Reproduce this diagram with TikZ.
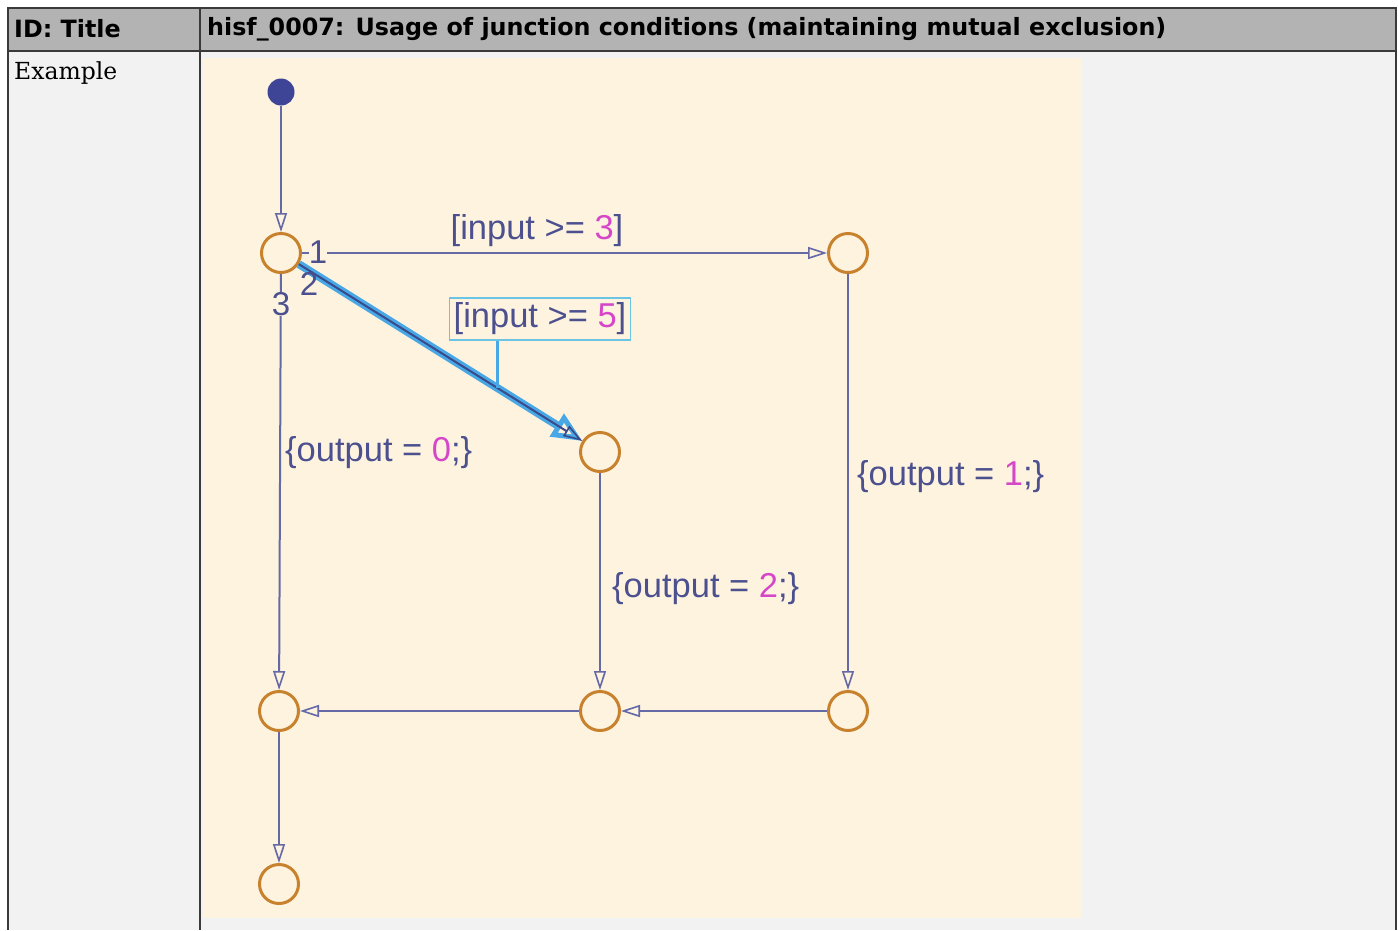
\documentclass[tikz,border=0pt]{standalone}
\usepackage{fontspec}
\setmainfont{DejaVu Serif}
\newfontfamily\headfont{DejaVu Sans}
\newfontfamily\chartfont{Liberation Sans}
\usetikzlibrary{arrows.meta}
\definecolor{hdrgray}{HTML}{B3B3B3}
\definecolor{cellgray}{HTML}{F2F2F2}
\definecolor{rulegray}{HTML}{3A3A3A}
\definecolor{chartbg}{HTML}{FDF3DF}
\definecolor{juncorange}{HTML}{C8822E}
\definecolor{transblue}{HTML}{6569A6}
\definecolor{labelblue}{HTML}{4C508F}
\definecolor{valmagenta}{HTML}{D646C8}
\definecolor{selblue}{HTML}{48A8E6}
\definecolor{seldark}{HTML}{3A4A8A}
\definecolor{boxcyan}{HTML}{6CC4E4}
\definecolor{dotblue}{HTML}{3E4596}
\newcommand{\val}[1]{\textcolor{valmagenta}{#1}}

\begin{document}
\begin{tikzpicture}[x=1pt, y=-1pt,
  junction/.style={circle, draw=juncorange, line width=3pt, minimum size=39pt, inner sep=0pt},
  trans/.style={draw=transblue, line width=2pt, -{Triangle[open, length=19pt, width=12pt, line width=1.6pt]}},
  selected/.style={draw=selblue, line width=8pt, -{Triangle[open, length=30pt, width=26pt, line width=5pt]}},
  lbl/.style={font=\chartfont\fontsize{34.5}{38}\selectfont, text=labelblue, inner sep=0pt},
  prio/.style={lbl, font=\chartfont\fontsize{33}{36}\selectfont, text height=23pt, text depth=0pt},
  hdr/.style={font=\headfont\bfseries\fontsize{23.8}{28}\selectfont, anchor=west, inner sep=0pt}]
  \useasboundingbox (0,0) rectangle (1398,930);
  % table
  \fill[cellgray] (8,51) rectangle (1396,930);
  \fill[hdrgray] (8,8) rectangle (1396,51);
  \draw[rulegray, line width=1.5pt] (8,930) -- (8,8) -- (1396,8) -- (1396,930);
  \draw[rulegray, line width=1.5pt] (8,51) -- (1396,51);
  \draw[rulegray, line width=1.5pt] (200,8) -- (200,930);
  \node[hdr] (idtitle) at (14,29) {ID: Title};
  \node[hdr] (ruletitle) at (207,29) {hisf\_0007: Usage of junction conditions (maintaining mutual exclusion)};
  \node[anchor=west, inner sep=0pt, font=\fontsize{23.5}{27}\selectfont] (example) at (14,73) {Example};
  % chart
  \fill[chartbg] (203,58) rectangle (1082,918);
  \node[circle, fill=dotblue, minimum size=27pt, inner sep=0pt] (dflt) at (281,92) {};
  \node[junction] (j0) at (281,253) {};
  \node[junction] (j1) at (848,253) {};
  \node[junction] (j2) at (600,452) {};
  \node[junction] (j3) at (279,711) {};
  \node[junction] (j4) at (600,711) {};
  \node[junction] (j5) at (848,711) {};
  \node[junction] (j6) at (279,884) {};
  \draw[trans] (dflt) -- (j0);
  \draw[trans] (j0) -- (j1);
  \draw[trans] (j0) -- (j3);
  \draw[selected] (j0) -- coordinate[pos=0.70] (lead) (j2);
  \draw[trans, draw=seldark] (j0) -- (j2);
  \draw[trans] (j1) -- (j5);
  \draw[trans] (j2) -- (j4);
  \draw[trans] (j5) -- (j4);
  \draw[trans] (j4) -- (j3);
  \draw[trans] (j3) -- (j6);
  \node[prio, fill=chartbg] (prio1) at (318,252) {1};
  \node[prio] (prio2) at (309,284) {2};
  \node[prio, fill=chartbg] (prio3) at (281,304) {3};
  \node[lbl] (cond3) at (537,231) {[input >= \val{3}]};
  \node[lbl, draw=boxcyan, line width=1.5pt, inner xsep=4pt, inner ysep=5pt] (cond5) at (540,319) {[input >= \val{5}]};
  \draw[selblue, line width=3pt] (lead |- cond5.south) -- (lead);
  \node[lbl, anchor=west] (act0) at (285,453) {\{output = \val{0};\}};
  \node[lbl, anchor=west] (act1) at (857,477) {\{output = \val{1};\}};
  \node[lbl, anchor=west] (act2) at (612,589) {\{output = \val{2};\}};
\end{tikzpicture}
\end{document}
